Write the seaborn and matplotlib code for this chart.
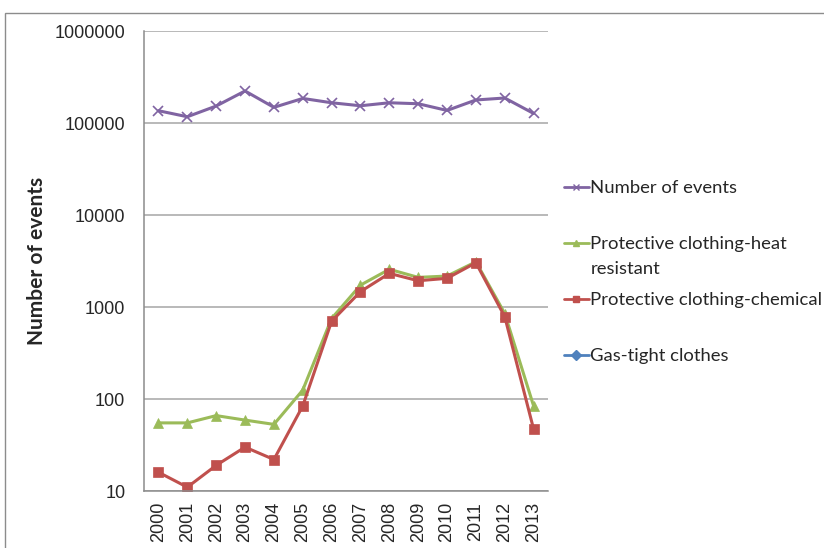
import numpy as np
import matplotlib
matplotlib.use('Agg')
import matplotlib.pyplot as plt
import seaborn as sns
from matplotlib.lines import Line2D
from matplotlib.patches import Rectangle
from matplotlib.ticker import FixedLocator, FuncFormatter, NullLocator

# Data
years = [2000, 2001, 2002, 2003, 2004, 2005, 2006, 2007, 2008, 2009, 2010, 2011, 2012, 2013]
number_of_events = [136000, 117000, 153000, 223000, 148000, 185000, 166000,
                    154000, 166000, 162000, 137000, 178000, 187000, 127000]
heat_resistant = [55, 55, 66, 59, 53, 125, 750, 1730, 2570, 2100, 2170, 3100, 850, 84]
chemical = [16, 11, 19, 30, 22, 84, 700, 1470, 2320, 1930, 2050, 3030, 785, 47]
gas_tight = [np.nan] * 14  # no visible values on the chart

series_names = ['Number of events', 'Protective clothing-heat',
                'Protective clothing-chemical', 'Gas-tight clothes']
colors = ['#8064A2', '#9BBB59', '#C0504D', '#4F81BD']
markers = ['x', '^', 's', 'D']

sns.set_style('white')
plt.rcParams['font.family'] = ['Lato', 'DejaVu Sans']

fig = plt.figure(figsize=(8.24, 5.48), dpi=100)
ax = fig.add_axes([0.1748, 0.104, 0.4903, 0.8394])

# outer chart border
fig.patches.append(Rectangle((0.006, -0.05), 1.1, 1.026, transform=fig.transFigure,
                             fill=False, edgecolor='#8c8c8c', linewidth=1.0))

all_values = [number_of_events, heat_resistant, chemical, gas_tight]
for vals, col, mk in zip(all_values, colors, markers):
    if np.all(np.isnan(vals)):
        continue
    sns.lineplot(x=years, y=vals, color=col, marker=mk, markersize=6.5,
                 markeredgecolor=col, markeredgewidth=1.2 if mk == 'x' else 0.5,
                 linewidth=2.2, ax=ax, legend=False)

ax.set_yscale('log')
ax.set_ylim(10, 1000000)
ax.set_xlim(1999.5, 2013.5)
ax.yaxis.set_major_locator(FixedLocator([10, 100, 1000, 10000, 100000, 1000000]))
ax.yaxis.set_minor_locator(NullLocator())
ax.yaxis.set_major_formatter(FuncFormatter(lambda v, p: f'{int(round(v))}'))
ax.set_xticks(years)
ax.set_xticklabels([str(y) for y in years], rotation=90, fontsize=13,
                   family=['Liberation Sans'])
ax.set_xticks([y + 0.5 for y in years[:-1]] + [1999.5, 2013.5], minor=True)
ax.tick_params(axis='x', which='major', length=0, pad=8)
ax.tick_params(axis='x', which='minor', length=6, color='#8c8c8c', width=1)
ax.tick_params(axis='y', which='major', length=4.5, color='#8c8c8c', width=1,
               labelsize=13, pad=9)
for lbl in ax.get_yticklabels():
    lbl.set_family(['Liberation Sans'])

ax.grid(True, axis='y', color='#a6a6a6', linewidth=1.1)
ax.grid(False, axis='x')
for s in ['top', 'right']:
    ax.spines[s].set_visible(False)
for s in ['left', 'bottom']:
    ax.spines[s].set_color('#8c8c8c')
    ax.spines[s].set_linewidth(1.1)

ax.set_xlabel('')
ax.set_ylabel('Number of events', fontsize=15, fontweight='bold')
ax.yaxis.set_label_coords(-0.240, 0.5)

handles = [Line2D([0], [0], color=c, marker=m, markersize=5, linewidth=2,
                  markeredgecolor=c) for c, m in zip(colors, markers)]
leg = ax.legend(handles, series_names, loc='upper left', bbox_to_anchor=(1.02, 0.692),
                frameon=False, fontsize=13.3, handlelength=1.4, handletextpad=0.05,
                labelspacing=2.17, borderaxespad=0)
leg.set_zorder(5)
# second line of the wrapped label, as in the original legend
ax.annotate('resistant', xy=(0, 0), xycoords=leg.get_texts()[1],
            xytext=(0, -6.5), textcoords='offset points', va='top', ha='left',
            fontsize=13.3, zorder=10)

plt.savefig('out.png', dpi=100)
plt.close()
